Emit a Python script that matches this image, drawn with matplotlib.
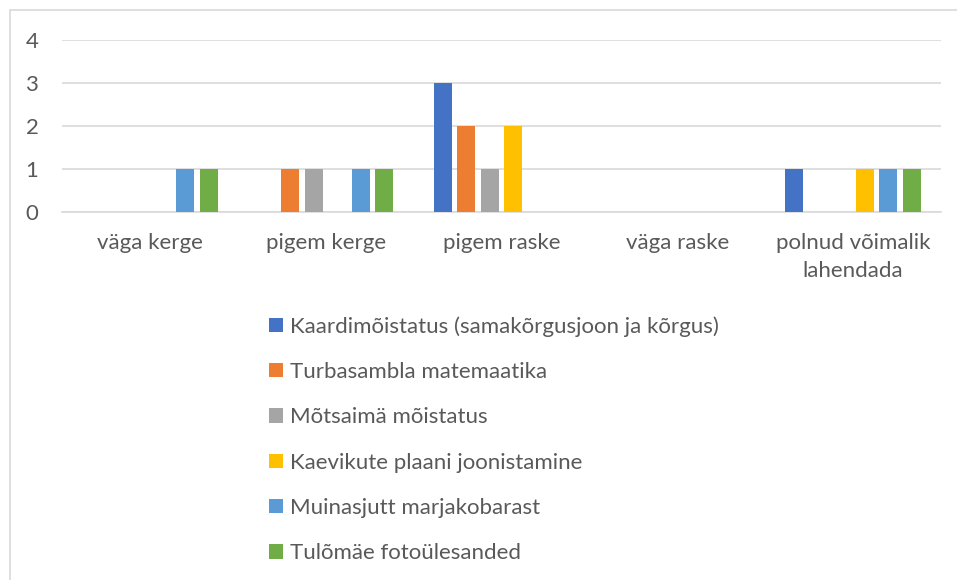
import matplotlib
matplotlib.use("Agg")
import matplotlib.pyplot as plt
from matplotlib.patches import Rectangle
import numpy as np

categories = ["väga kerge", "pigem kerge", "pigem raske", "väga raske", "polnud võimalik\nlahendada"]
series_names = [
    "Kaardimõistatus (samakõrgusjoon ja kõrgus)",
    "Turbasambla matemaatika",
    "Mõtsaimä mõistatus",
    "Kaevikute plaani joonistamine",
    "Muinasjutt marjakobarast",
    "Tulõmäe fotoülesanded",
]
kaardi = [0, 0, 3, 0, 1]
turba = [0, 1, 2, 0, 0]
motsaima = [0, 1, 1, 0, 0]
kaevikute = [0, 0, 2, 0, 1]
muinasjutt = [1, 1, 0, 0, 1]
tulomae = [1, 1, 0, 0, 1]
series_values = [kaardi, turba, motsaima, kaevikute, muinasjutt, tulomae]
colors = ["#4472C4", "#ED7D31", "#A5A5A5", "#FFC000", "#5B9BD5", "#70AD47"]

plt.rcParams['font.family'] = ['Lato', 'DejaVu Sans']
txt = "#595959"
fs = 16

fig = plt.figure(figsize=(9.57, 5.8), dpi=100)
W, H = 957, 580
# outer chart frame
fig.patches.append(Rectangle((10 / W, -0.1), 1.2, (1 - 10 / H) + 0.1, transform=fig.transFigure,
                             fill=False, edgecolor="#D9D9D9", linewidth=1.2))

ax = fig.add_axes([62 / W, 1 - 212 / H, (941 - 62) / W, (212 - 40) / H])
x = np.arange(len(categories))
pitch = 0.1337
bw = 0.1024
n = len(series_values)
for i, (vals, c, name) in enumerate(zip(series_values, colors, series_names)):
    offs = (i - (n - 1) / 2) * pitch
    ax.bar(x + offs, vals, width=bw, color=c, label=name, zorder=3)

ax.set_xlim(-0.5, len(categories) - 0.5)
ax.set_ylim(0, 4)
ax.set_yticks([0, 1, 2, 3, 4])
ax.grid(axis="y", color="#D9D9D9", linewidth=1.2, zorder=0)
for s in ["top", "right", "left"]:
    ax.spines[s].set_visible(False)
ax.spines["bottom"].set_color("#D9D9D9")
ax.spines["bottom"].set_linewidth(1.2)
ax.tick_params(axis="both", length=0, colors=txt, labelsize=fs)
ax.tick_params(axis="y", pad=17)
ax.tick_params(axis="x", pad=15)
ax.set_xticks(x)
ax.set_xticklabels(categories, linespacing=1.5)

handles, labels = ax.get_legend_handles_labels()
leg = fig.legend(handles, labels, loc="upper left", bbox_to_anchor=(269 / W, 1 - 316 / H),
                 frameon=False, fontsize=fs, handlelength=0.63, handleheight=0.63,
                 handletextpad=0.3, labelspacing=1.14, labelcolor=txt,
                 borderpad=0, borderaxespad=0)

fig.savefig("out.png", dpi=100)
